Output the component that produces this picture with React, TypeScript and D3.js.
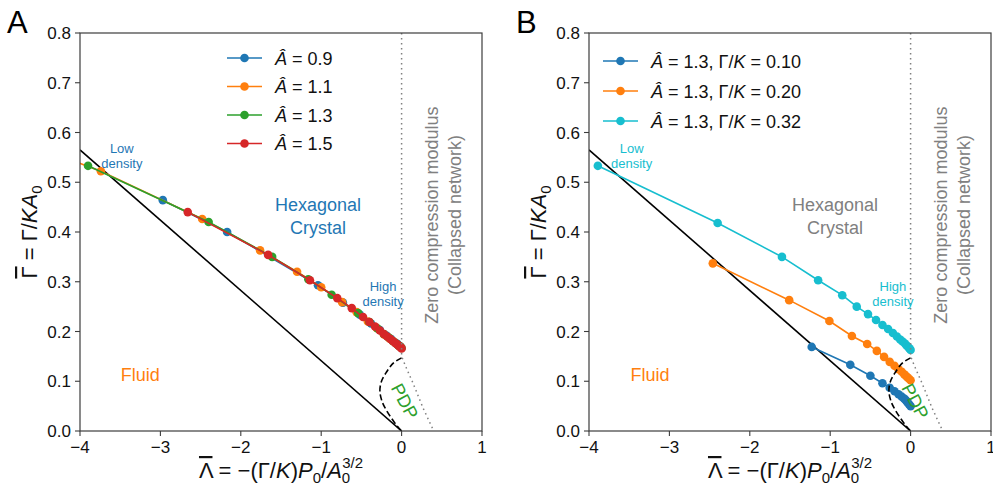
import React from "react";
import * as d3 from "d3";

const W = 993;
const H = 496;
const FONT = "'Liberation Sans', Arial, Helvetica, sans-serif";

const xTicks = [-4, -3, -2, -1, 0, 1];
const yTicks = [0, 0.1, 0.2, 0.3, 0.4, 0.5, 0.6, 0.7, 0.8];

// Panel A: four reduced areas, one shared curve
const a09Lambda = [-2.97, -2.17, -1.04, -0.73, -0.52, -0.38, -0.27, -0.19, -0.13, -0.08, -0.05, -0.025, -0.01];
const a09Gamma = [0.464, 0.4, 0.293, 0.258, 0.234, 0.216, 0.203, 0.192, 0.185, 0.178, 0.175, 0.171, 0.169];
const a11Lambda = [-4.3, -3.74, -2.48, -1.76, -1.3, -1.0, -0.74, -0.56, -0.42, -0.31, -0.22, -0.15, -0.1, -0.06, -0.03, -0.01];
const a11Gamma = [0.556, 0.522, 0.426, 0.363, 0.32, 0.289, 0.259, 0.239, 0.22, 0.207, 0.194, 0.186, 0.18, 0.175, 0.171, 0.169];
const a13Lambda = [-3.9, -2.4, -1.61, -1.16, -0.87, -0.54, -0.4, -0.3, -0.22, -0.16, -0.11, -0.07, -0.04, -0.02, 0];
const a13Gamma = [0.533, 0.42, 0.35, 0.305, 0.274, 0.237, 0.219, 0.206, 0.195, 0.188, 0.181, 0.176, 0.172, 0.17, 0.167];
const a15Lambda = [-2.66, -1.66, -1.14, -0.8, -0.62, -0.48, -0.4, -0.33, -0.27, -0.22, -0.18, -0.14, -0.11, -0.08, -0.06, -0.04, -0.025, -0.01, 0];
const a15Gamma = [0.44, 0.354, 0.303, 0.267, 0.247, 0.229, 0.219, 0.21, 0.202, 0.195, 0.19, 0.185, 0.181, 0.177, 0.175, 0.172, 0.17, 0.168, 0.166];

// Panel B: Â = 1.3 at three line tensions
const k10Lambda = [-1.23, -0.75, -0.5, -0.35, -0.26, -0.2, -0.15, -0.11, -0.08, -0.06, -0.04, -0.02, 0];
const k10Gamma = [0.169, 0.133, 0.111, 0.096, 0.087, 0.08, 0.074, 0.069, 0.065, 0.062, 0.058, 0.054, 0.05];
const k20Lambda = [-2.46, -1.51, -1.01, -0.73, -0.54, -0.42, -0.33, -0.26, -0.2, -0.15, -0.11, -0.08, -0.06, -0.04, -0.02, 0];
const k20Gamma = [0.337, 0.263, 0.221, 0.191, 0.175, 0.161, 0.149, 0.139, 0.131, 0.124, 0.119, 0.114, 0.111, 0.108, 0.105, 0.102];
const k32Lambda = [-3.89, -2.4, -1.6, -1.15, -0.85, -0.67, -0.53, -0.43, -0.35, -0.28, -0.22, -0.17, -0.13, -0.1, -0.07, -0.05, -0.03, -0.015, 0];
const k32Gamma = [0.533, 0.418, 0.35, 0.303, 0.273, 0.25, 0.235, 0.223, 0.213, 0.205, 0.197, 0.19, 0.184, 0.18, 0.176, 0.172, 0.169, 0.166, 0.163];

// Phase boundaries
const fluidLambda = [-4, 0];
const fluidGamma = [0.565, 0];
const pdpLambda = [0, -0.1, -0.19, -0.25, -0.27, -0.24, -0.19, -0.11, -0.05, 0];
const pdpGamma = [0.147, 0.137, 0.118, 0.1, 0.08, 0.058, 0.042, 0.022, 0.009, 0];
const collapseLambda = [0, 0, 0.05, 0.14, 0.27, 0.4];
const collapseGamma = [0.8, 0.15, 0.13, 0.097, 0.045, 0];

const BLUE = "#1f77b4";
const ORANGE = "#ff7f0e";
const GREEN = "#2ca02c";
const RED = "#d62728";
const CYAN = "#17becf";
const GRAY = "#808080";
const SPINE = "#3c3c3c";

type Series = { lambda: number[]; gamma: number[]; color: string; label: string[] };
type Note = { lambda: number; gamma: number; lines: string[]; size: number; color: string; rotate?: number; lh?: number };

const seriesA: Series[] = [
  { lambda: a09Lambda, gamma: a09Gamma, color: BLUE, label: ["0.9"] },
  { lambda: a11Lambda, gamma: a11Gamma, color: ORANGE, label: ["1.1"] },
  { lambda: a13Lambda, gamma: a13Gamma, color: GREEN, label: ["1.3"] },
  { lambda: a15Lambda, gamma: a15Gamma, color: RED, label: ["1.5"] },
];
const seriesB: Series[] = [
  { lambda: k10Lambda, gamma: k10Gamma, color: BLUE, label: ["1.3", "0.10"] },
  { lambda: k20Lambda, gamma: k20Gamma, color: ORANGE, label: ["1.3", "0.20"] },
  { lambda: k32Lambda, gamma: k32Gamma, color: CYAN, label: ["1.3", "0.32"] },
];

const zeroModulus = ["Zero compression modulus", "(Collapsed network)"];

const notesA: Note[] = [
  { lambda: -3.48, gamma: 0.553, lines: ["Low", "density"], size: 13, color: BLUE, lh: 15 },
  { lambda: -1.04, gamma: 0.432, lines: ["Hexagonal", "Crystal"], size: 18, color: BLUE, lh: 23 },
  { lambda: -0.23, gamma: 0.275, lines: ["High", "density"], size: 13, color: BLUE, lh: 15 },
  { lambda: -3.25, gamma: 0.113, lines: ["Fluid"], size: 18, color: ORANGE },
  { lambda: 0.04, gamma: 0.06, lines: ["PDP"], size: 18, color: GREEN, rotate: 62 },
  { lambda: 0.52, gamma: 0.434, lines: zeroModulus, size: 18, color: GRAY, rotate: -90, lh: 23 },
];
const notesB: Note[] = [
  { lambda: -3.47, gamma: 0.553, lines: ["Low", "density"], size: 13, color: CYAN, lh: 15 },
  { lambda: -0.94, gamma: 0.432, lines: ["Hexagonal", "Crystal"], size: 18, color: GRAY, lh: 23 },
  { lambda: -0.22, gamma: 0.275, lines: ["High", "density"], size: 13, color: CYAN, lh: 15 },
  { lambda: -3.24, gamma: 0.113, lines: ["Fluid"], size: 18, color: ORANGE },
  { lambda: 0.06, gamma: 0.06, lines: ["PDP"], size: 18, color: GREEN, rotate: 62 },
  { lambda: 0.52, gamma: 0.434, lines: zeroModulus, size: 18, color: GRAY, rotate: -90, lh: 23 },
];

type PanelProps = {
  id: string;
  letter: string;
  letterX: number;
  x0: number;
  x1: number;
  series: Series[];
  notes: Note[];
  legendX: number;
  legendY: number;
  legendStep: number;
};

function LegendText({ s }: { s: Series }) {
  if (s.label.length === 1) {
    return (
      <>
        <tspan fontStyle="italic">Â</tspan>
        <tspan>{` = ${s.label[0]}`}</tspan>
      </>
    );
  }
  return (
    <>
      <tspan fontStyle="italic">Â</tspan>
      <tspan>{` = ${s.label[0]}, Γ/`}</tspan>
      <tspan fontStyle="italic">K</tspan>
      <tspan>{` = ${s.label[1]}`}</tspan>
    </>
  );
}

const barred: React.CSSProperties = { textDecoration: "overline" };

function Panel(p: PanelProps) {
  const top = 33;
  const bottom = 431;
  const x = d3.scaleLinear().domain([-4, 1]).range([p.x0, p.x1]);
  const y = d3.scaleLinear().domain([0, 0.8]).range([bottom, top]);
  const line = d3
    .line<[number, number]>()
    .x((d) => x(d[0]))
    .y((d) => y(d[1]));
  const smooth = d3
    .line<[number, number]>()
    .x((d) => x(d[0]))
    .y((d) => y(d[1]))
    .curve(d3.curveCatmullRom.alpha(0.5));
  const zip = (a: number[], b: number[]) => a.map((v, i) => [v, b[i]] as [number, number]);
  const fmt = d3.format(".1f");
  const cx = (p.x0 + p.x1) / 2;
  const cy = (top + bottom) / 2;
  const clip = `clip-${p.id}`;

  return (
    <g fontFamily={FONT}>
      <defs>
        <clipPath id={clip}>
          <rect x={p.x0} y={top} width={p.x1 - p.x0} height={bottom - top} />
        </clipPath>
      </defs>
      <g clipPath={`url(#${clip})`}>
        <path d={line(zip(fluidLambda, fluidGamma)) || ""} fill="none" stroke="#000" strokeWidth={1.6} />
        {p.series.map((s, i) => (
          <g key={i}>
            <path d={line(zip(s.lambda, s.gamma)) || ""} fill="none" stroke={s.color} strokeWidth={1.6} />
            {s.lambda.map((l, j) => (
              <circle key={j} cx={x(l)} cy={y(s.gamma[j])} r={4.3} fill={s.color} />
            ))}
          </g>
        ))}
        <path
          d={smooth(zip(pdpLambda, pdpGamma)) || ""}
          fill="none"
          stroke="#000"
          strokeWidth={1.6}
          strokeDasharray="6,3"
        />
        <path
          d={line(zip(collapseLambda, collapseGamma)) || ""}
          fill="none"
          stroke={GRAY}
          strokeWidth={1.5}
          strokeDasharray="1.5,3.5"
        />
      </g>

      {/* spines */}
      <rect x={p.x0} y={top} width={p.x1 - p.x0} height={bottom - top} fill="none" stroke={SPINE} strokeWidth={1.2} />

      {/* x ticks */}
      {xTicks.map((t) => (
        <g key={`x${t}`}>
          <line x1={x(t)} x2={x(t)} y1={bottom} y2={bottom + 5} stroke={SPINE} strokeWidth={1.1} />
          <text x={x(t)} y={bottom + 22} textAnchor="middle" fontSize={17} fill="#111">
            {d3.format("d")(t).replace("-", "\u2212")}
          </text>
        </g>
      ))}
      {/* y ticks */}
      {yTicks.map((t) => (
        <g key={`y${t}`}>
          <line x1={p.x0 - 5} x2={p.x0} y1={y(t)} y2={y(t)} stroke={SPINE} strokeWidth={1.1} />
          <text x={p.x0 - 9} y={y(t) + 6} textAnchor="end" fontSize={17} fill="#111">
            {fmt(t)}
          </text>
        </g>
      ))}

      {/* axis labels */}
      <text x={cx} y={478} textAnchor="middle" fontSize={22} fill="#111">
        <tspan style={barred}>Λ</tspan>
        <tspan>{" = \u2212(Γ/"}</tspan>
        <tspan fontStyle="italic">K</tspan>
        <tspan>)</tspan>
        <tspan fontStyle="italic">P</tspan>
        <tspan fontSize={15} dy={5}>0</tspan>
        <tspan dy={-5}>/</tspan>
        <tspan fontStyle="italic">A</tspan>
        <tspan fontSize={15} dy={5}>0</tspan>
        <tspan fontSize={15} dx={-8} dy={-15}>3/2</tspan>
      </text>
      <text transform={`translate(${p.x0 - 43},${cy}) rotate(-90)`} textAnchor="middle" fontSize={22} fill="#111">
        <tspan style={barred}>Γ</tspan>
        <tspan>{" = Γ/"}</tspan>
        <tspan fontStyle="italic">KA</tspan>
        <tspan fontSize={15} dy={5}>0</tspan>
      </text>

      {/* legend */}
      {p.series.map((s, i) => {
        const ly = p.legendY + i * p.legendStep;
        return (
          <g key={`lg${i}`}>
            <line x1={p.legendX} x2={p.legendX + 35} y1={ly} y2={ly} stroke={s.color} strokeWidth={1.6} />
            <circle cx={p.legendX + 17.5} cy={ly} r={4.3} fill={s.color} />
            <text x={p.legendX + 48} y={ly + 6.5} fontSize={18} fill="#111">
              <LegendText s={s} />
            </text>
          </g>
        );
      })}

      {/* region annotations */}
      {p.notes.map((n, i) => {
        const lh = n.lh ?? n.size * 1.2;
        const k = n.lines.length;
        return (
          <text
            key={`n${i}`}
            transform={`translate(${x(n.lambda)},${y(n.gamma)}) rotate(${n.rotate ?? 0})`}
            textAnchor="middle"
            fontSize={n.size}
            fill={n.color}
          >
            {n.lines.map((l, j) => (
              <tspan key={j} x={0} y={(j - (k - 1) / 2) * lh + n.size * 0.36}>
                {l}
              </tspan>
            ))}
          </text>
        );
      })}

      <text x={p.letterX} y={33} fontSize={31} fill="#000">
        {p.letter}
      </text>
    </g>
  );
}

export default function App() {
  return (
    <svg
      width={W}
      height={H}
      viewBox={`0 0 ${W} ${H}`}
      style={{ position: "absolute", left: 0, top: 0, background: "#fff" }}
    >
      <rect width={W} height={H} fill="#fff" />
      <Panel
        id="a"
        letter="A"
        letterX={7}
        x0={80}
        x1={482}
        series={seriesA}
        notes={notesA}
        legendX={227}
        legendY={58}
        legendStep={28.5}
      />
      <Panel
        id="b"
        letter="B"
        letterX={516}
        x0={589}
        x1={991}
        series={seriesB}
        notes={notesB}
        legendX={603}
        legendY={61}
        legendStep={30}
      />
    </svg>
  );
}
